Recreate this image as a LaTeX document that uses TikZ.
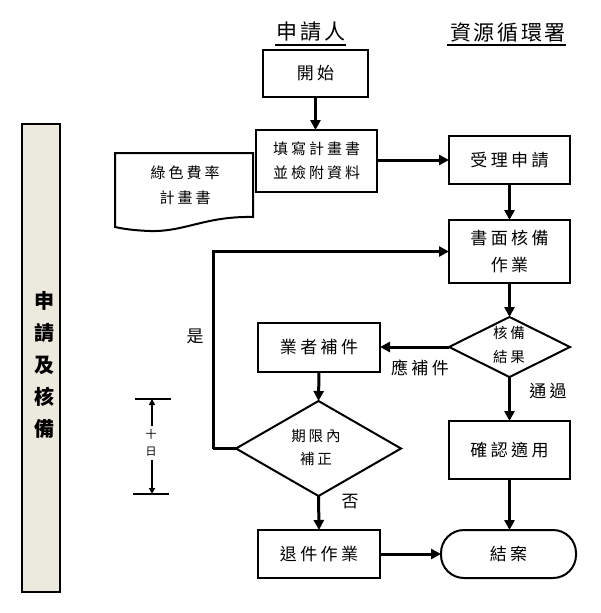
\documentclass[tikz,border=0pt]{standalone}
\usepackage{fontspec}
\usetikzlibrary{arrows.meta,shapes.geometric}
\newfontfamily\cjk[LetterSpace=20]{Noto Sans CJK TC}
\newfontfamily\cjkt[LetterSpace=12]{Noto Sans CJK TC}
\newfontfamily\cjkn{Noto Sans CJK TC}
\definecolor{barfill}{HTML}{ECE9DF}
\newcommand\myboxfont{\cjk\fontsize{17}{25}\selectfont}
\newcommand\mydecfont{\cjk\fontsize{14.5}{23.5}\selectfont}
\begin{document}
\begin{tikzpicture}[x=1pt,y=-1pt,
  every node/.style={inner sep=0pt,outer sep=0pt,text=black},
  box/.style={draw,line width=2pt,rectangle,align=center,font=\myboxfont},
  dia/.style={draw,line width=2pt,diamond,inner sep=0pt},
  lbl/.style={font=\myboxfont,align=center},
  conn/.style={line width=3pt,-{Triangle[length=10pt,width=10pt]}},
  thin/.style={line width=1.6pt,-{Triangle[length=6pt,width=6pt]}}]
\useasboundingbox (0,0) rectangle (601,613);

% titles
\node[font=\cjkt\fontsize{21}{21}\selectfont] (ta) at (311,32) {申請人};
\node[font=\cjkt\fontsize{21}{21}\selectfont] (tb) at (508,32) {資源循環署};
\draw[line width=1.6pt] (275,45) -- (346,45);
\draw[line width=1.6pt] (447,45) -- (566,45);

% left bar
\node[draw,line width=2pt,fill=barfill,minimum width=38,minimum height=468] (bar) at (41,358) {};
\node[font=\cjkn\bfseries\fontsize{20}{32}\selectfont,align=center] (bartext) at (44,365) {申\\請\\及\\核\\備};

% boxes
\node[box,minimum width=105,minimum height=47] (start) at (315.5,73.5) {開始};
\node[box,minimum width=121,minimum height=62,font=\cjk\fontsize{15}{24}\selectfont] (fill) at (316.5,161) {填寫計畫書\\並檢附資料};
\node[box,minimum width=121,minimum height=48] (accept) at (509.5,160) {受理申請};
\node[box,minimum width=121,minimum height=63,font=\cjk\fontsize{17}{27}\selectfont] (review) at (509.5,251.5) {書面核備\\作業};
\node[box,minimum width=122,minimum height=49] (supp) at (319,347.5) {業者補件};
\node[box,minimum width=122,minimum height=48] (reject) at (319,554) {退件作業};
\node[box,minimum width=121,minimum height=58] (confirm) at (509.5,450) {\raisebox{-5pt}{確認適用}};
\node[box,minimum width=135,minimum height=48,rounded corners=23pt] (end) at (508.5,554) {結案};

% document shape
\draw[line width=2pt] (115,153) -- (253,153) -- (253,217)
  .. controls (205,216) and (185,232) .. (150,231)
  .. controls (135,230.5) and (124,229) .. (115,227) -- cycle;
\node[font=\cjk\fontsize{15}{25}\selectfont,align=center] (doc) at (185,185) {綠色費率\\計畫書};

% decisions
\node[dia,minimum width=121,minimum height=60] (dec1) at (509.5,347) {};
\node[font=\mydecfont,align=center] (dec1t) at (509,345) {核備\\結果};
\node[dia,minimum width=165,minimum height=95] (dec2) at (318.5,448.5) {};
\node[font=\mydecfont,align=center] (dec2t) at (316,447.5) {期限內\\補正};

% connectors
\draw[conn] (start.south) -- (start.south |- fill.north);
\draw[conn] (accept.west -| fill.east) -- (accept.west);
\draw[conn] (accept.south) -- (review.north);
\draw[conn] (review.south) -- (dec1.north);
\draw[conn] (dec1.west) -- (dec1.west -| supp.east);
\draw[conn] (dec1.south) -- (confirm.north);
\draw[conn] (supp.south) -- (dec2.north);
\coordinate (loopc) at (213,448.5);
\draw[line width=3pt] (dec2.west) -- (loopc);
\draw[conn] (loopc) |- (review.west);
\draw[conn] (dec2.south) -- (reject.north);
\draw[conn] (reject.east) -- (end.west);
\draw[conn] (confirm.south) -- (confirm.south |- end.north);

% labels
\node[lbl] (yes) at (195,336) {是};
\node[lbl] (no) at (350,502) {否};
\node[lbl] (need) at (420,368) {應補件};
\node[lbl] (pass) at (548,391) {通過};

% ten days bracket
\coordinate (tt) at (152,399);
\coordinate (tb2) at (152,494);
\draw[line width=2pt] (135,399) -- (171,399);
\draw[line width=2pt] (133,494) -- (169,494);
\node[font=\cjkn\fontsize{11}{17}\selectfont,align=center] (ten) at (151,443) {十\\日};
\draw[thin] (ten.north) ++(1,-4) -- (tt);
\draw[thin] (ten.south) ++(1,4) -- (tb2);
\end{tikzpicture}
\end{document}
